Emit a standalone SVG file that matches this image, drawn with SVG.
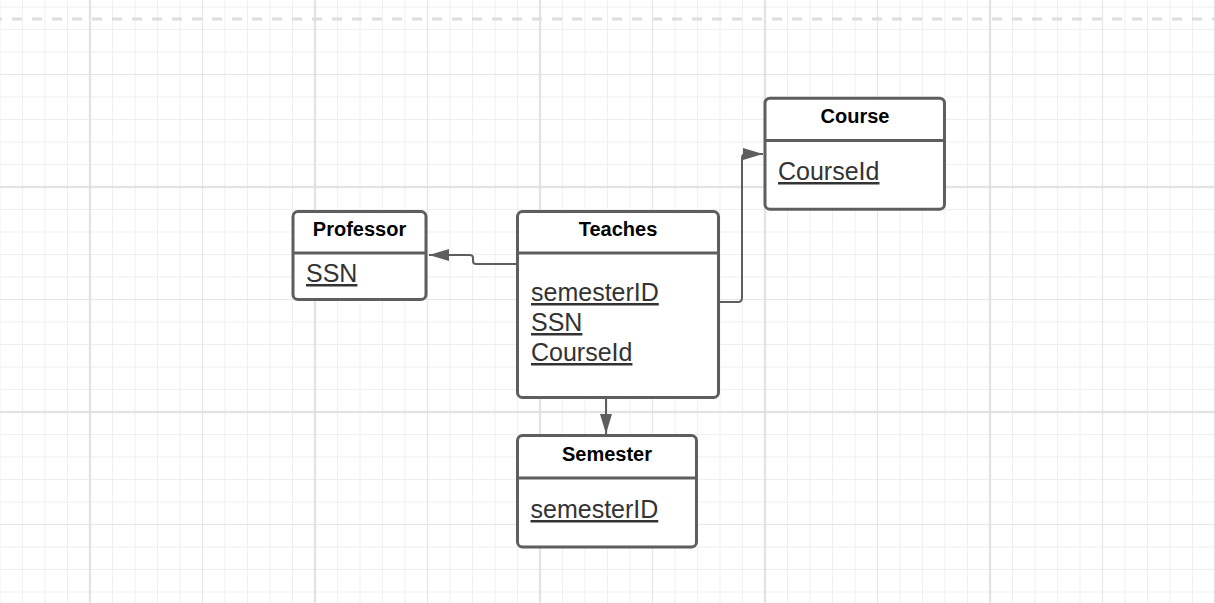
<svg xmlns="http://www.w3.org/2000/svg" width="1215" height="603" viewBox="0 0 1215 603">
<style>
.box{fill:#ffffff;stroke:#5e5e5e;stroke-width:3}
.sep{stroke:#5e5e5e;stroke-width:3;fill:none}
.hdr{font-family:"Liberation Sans",Arial,sans-serif;font-weight:bold;font-size:20px;fill:#000;text-anchor:middle}
.attr{font-family:"Liberation Sans",Arial,sans-serif;font-size:25px;fill:#333333;text-decoration:underline}
.conn{fill:none;stroke:#5e5e5e;stroke-width:2}
</style>
<defs>
<pattern id="gMinor" patternUnits="userSpaceOnUse" x="-11.25" y="-4.25" width="22.5" height="22.5">
<path d="M11.25,0V22.5M0,11.25H22.5" stroke="#efefef" stroke-width="1" fill="none"/>
</pattern>
<pattern id="gMed" patternUnits="userSpaceOnUse" x="33.75" y="18.25" width="112.5" height="112.5">
<path d="M56.25,0V112.5M0,56.25H112.5" stroke="#e6e6e6" stroke-width="1.2" fill="none"/>
</pattern>
<pattern id="gMajor" patternUnits="userSpaceOnUse" x="-22.5" y="74.5" width="225" height="225">
<path d="M112.5,0V225M0,112.5H225" stroke="#dcdcdc" stroke-width="1.5" fill="none"/>
</pattern>
<marker id="arrow" viewBox="0 0 20 12" refX="20" refY="6" markerWidth="20" markerHeight="12" markerUnits="userSpaceOnUse" orient="auto">
<path d="M0,0L20,6L0,12Z" fill="#5e5e5e"/>
</marker>
</defs>
<rect width="1215" height="603" fill="#ffffff"/>
<rect width="1215" height="603" fill="url(#gMinor)"/>
<rect width="1215" height="603" fill="url(#gMed)"/>
<rect width="1215" height="603" fill="url(#gMajor)"/>
<path d="M-8,19H1215" stroke="#dedede" stroke-width="3" stroke-dasharray="10 10" fill="none"/>

<g id="connectors">
<path class="conn" d="M517,264H476Q473,264 473,261V258Q473,255 470,255H429" marker-end="url(#arrow)"/>
<path class="conn" d="M720,302H738Q742,302 742,298V158Q742,154 746,154H763" marker-end="url(#arrow)"/>
<path class="conn" d="M606,399V434" marker-end="url(#arrow)"/>
</g>

<g id="professor">
<rect class="box" x="293" y="211.5" width="133" height="88" rx="5"/>
<line class="sep" x1="293" y1="253" x2="426" y2="253"/>
<text class="hdr" x="359.5" y="235.5">Professor</text>
<text class="attr" x="306" y="282">SSN</text>
</g>

<g id="teaches">
<rect class="box" x="517.5" y="211.5" width="201" height="186" rx="5"/>
<line class="sep" x1="517.5" y1="253" x2="718.5" y2="253"/>
<text class="hdr" x="618" y="235.5">Teaches</text>
<text class="attr" x="531" y="301">semesterID</text>
<text class="attr" x="531" y="331">SSN</text>
<text class="attr" x="531" y="361">CourseId</text>
</g>

<g id="semester">
<rect class="box" x="517.5" y="435.5" width="179" height="111.5" rx="5"/>
<line class="sep" x1="517.5" y1="478" x2="696.5" y2="478"/>
<text class="hdr" x="607" y="460.5">Semester</text>
<text class="attr" x="530.5" y="518">semesterID</text>
</g>

<g id="course">
<rect class="box" x="765" y="98.2" width="179.5" height="111" rx="5"/>
<line class="sep" x1="765" y1="140.5" x2="944.5" y2="140.5"/>
<text class="hdr" x="855" y="123">Course</text>
<text class="attr" x="778" y="180">CourseId</text>
</g>
</svg>
